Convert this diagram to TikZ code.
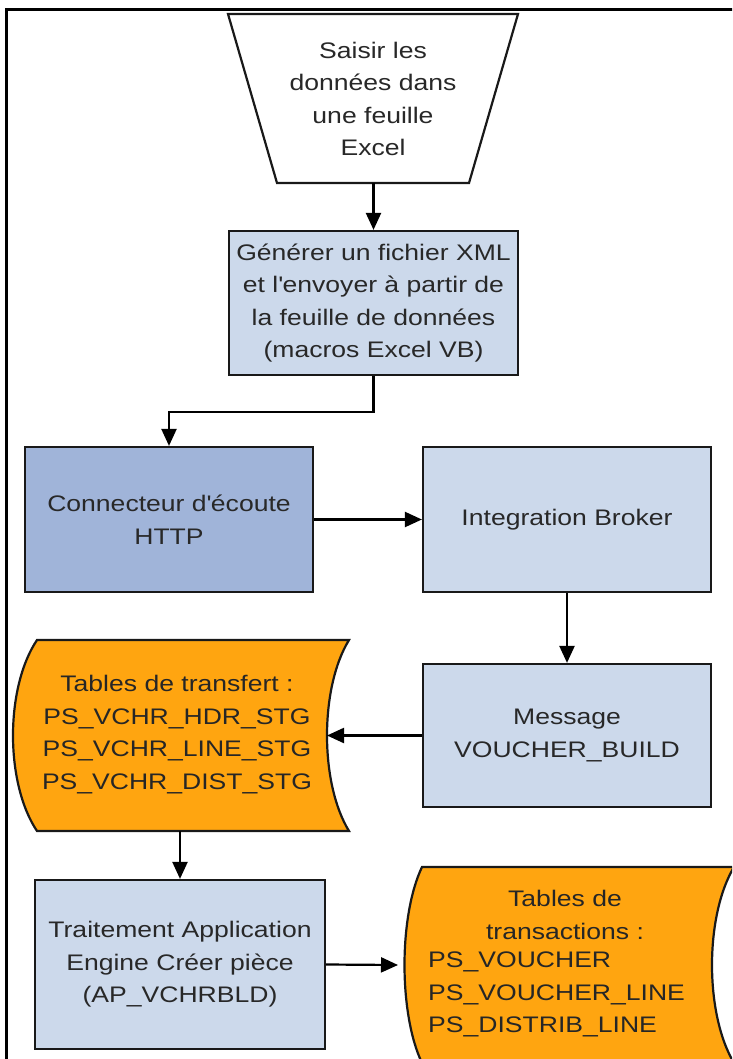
\documentclass[tikz,border=0pt]{standalone}
\usepackage{fontspec}
\setmainfont{Liberation Sans}[FakeStretch=1.18]
\usetikzlibrary{arrows.meta}
\definecolor{boxblue}{RGB}{204,217,235}
\definecolor{hubblue}{RGB}{160,180,217}
\definecolor{tableorange}{RGB}{255,165,16}
\definecolor{ink}{RGB}{40,40,40}
\definecolor{edge}{RGB}{25,25,25}
\tikzset{
  label text/.style={font=\fontsize{22.5}{32.5}\selectfont, text=ink, inner sep=0pt},
  procbox/.style={label text, draw=edge, line width=2.2pt, fill=boxblue, align=center},
  hubbox/.style={procbox, fill=hubblue},
  outline/.style={draw=edge, line width=2.2pt, line join=miter},
  store/.style={outline, fill=tableorange},
  arr/.style={draw=black, line width=2.2pt, -{Triangle[length=17pt,width=15pt]}},
}
\begin{document}
\begin{tikzpicture}[x=1pt,y=-1pt]
\useasboundingbox (0,0) rectangle (732,1059);
\clip (0,0) rectangle (732,1059);

% page frame (right and bottom sides run off the page)
\draw[line width=3pt, black] (6,1070) -- (6,10) -- (745,10);

% manual input: the Excel sheet
\draw[outline, fill=white] (228,14) -- (518,14) -- (469,183) -- (277,183) -- cycle;
\node[label text, align=center] (entry) at (373,99)
  {Saisir les\\données dans\\une feuille\\Excel};
\coordinate (entry-b) at (373.5,183);

% process boxes
\node[procbox, minimum width=289pt, minimum height=144pt] (gen) at (373.5,303)
  {Générer un fichier XML\\et l\textquotesingle envoyer à partir de\\la feuille de données\\(macros Excel VB)};
\node[hubbox, minimum width=288pt, minimum height=145pt] (conn) at (169,519.5)
  {Connecteur d\textquotesingle écoute\\HTTP};
\node[procbox, minimum width=288pt, minimum height=145pt] (ib) at (567,519.5)
  {Integration Broker};
\node[procbox, minimum width=288pt, minimum height=143pt] (msg) at (567,735.5)
  {Message\\VOUCHER\_BUILD};
\node[procbox, minimum width=290pt, minimum height=169pt] (ae) at (180,964.5)
  {Traitement Application\\Engine Créer pièce\\(AP\_VCHRBLD)};

% staging tables (stored data)
\draw[store] (37,640) .. controls (5,687.75) and (5,783.25) .. (37,831)
  -- (349,831) .. controls (319.67,783.25) and (319.67,687.75) .. (349,640) -- cycle;
\coordinate (stg-in) at (327,735.5);
\coordinate (stg-b) at (181,831);
\node[label text, align=center, text=black!85] (stg) at (177,734.5)
  {Tables de transfert :\\PS\_VCHR\_HDR\_STG\\PS\_VCHR\_LINE\_STG\\PS\_VCHR\_DIST\_STG};

% transaction tables (stored data)
\draw[store] (422,867) .. controls (398.67,916) and (398.67,1014) .. (422,1063)
  -- (734,1063) .. controls (704.67,1014) and (704.67,916) .. (734,867) -- cycle;
\coordinate (trx-in) at (398,965);
\node[label text, align=center, text=black!85] (trx-head) at (565,915)
  {Tables de\\transactions :};
\node[label text, align=left, anchor=west, text=black!85] (trx-list) at (428,994.5)
  {PS\_VOUCHER\\PS\_VOUCHER\_LINE\\PS\_DISTRIB\_LINE};

% connectors
\draw[arr] (entry-b) -- (gen.north);
\draw[arr] (gen.south) -- ++(0,36) -| (conn.north);
\draw[arr] (conn.east) -- (ib.west);
\draw[arr] (ib.south) -- (msg.north);
\draw[arr] (msg.west) -- (stg-in);
\draw[arr] (ae.north |- stg-b) -- (ae.north);
\draw[arr] (ae.east) -- (trx-in);
\end{tikzpicture}
\end{document}
